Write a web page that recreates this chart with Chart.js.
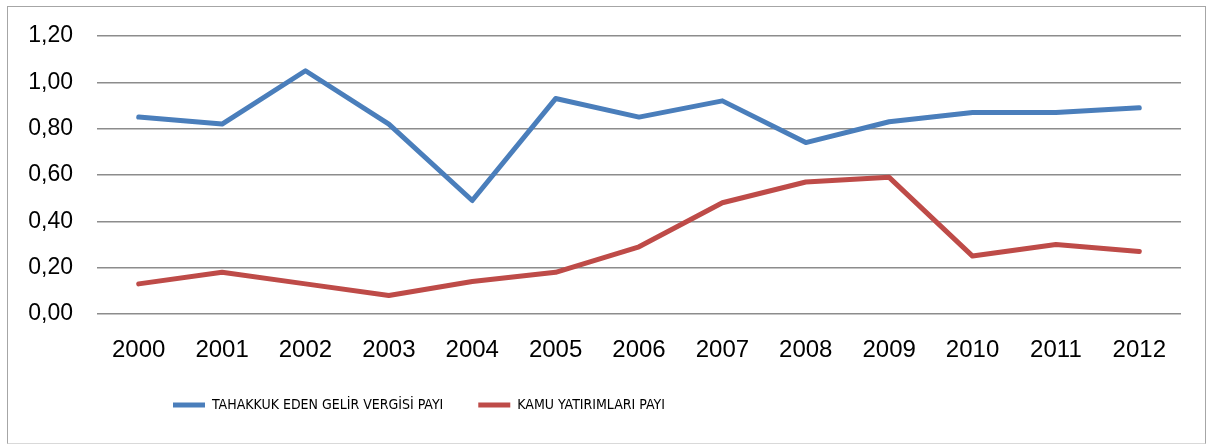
<!DOCTYPE html>
<html>
<head>
<meta charset="utf-8">
<script src="https://cdn.jsdelivr.net/npm/chart.js@4/dist/chart.umd.min.js"></script>
<style>
    body { margin: 0; background: #fff; }
    #box { position: absolute; left: 7px; top: 6px; width: 1197px; height: 436px; border: 1px solid #a6a6a6; border-bottom-color: #d9d9d9; }
    canvas { display: block; }
</style>
</head>
<body>
<div id="box"><canvas id="chart" width="1197" height="436"></canvas></div>
<script>
// data
var years = ['2000', '2001', '2002', '2003', '2004', '2005', '2006', '2007', '2008', '2009', '2010', '2011', '2012'];
var gelirVergisi = [0.85, 0.82, 1.05, 0.82, 0.49, 0.93, 0.85, 0.92, 0.74, 0.83, 0.87, 0.87, 0.89];
var kamuYatirim = [0.13, 0.18, 0.13, 0.08, 0.14, 0.18, 0.29, 0.48, 0.57, 0.59, 0.25, 0.30, 0.27];
var yTicks = [0, 0.2, 0.4, 0.6, 0.8, 1.0, 1.2];

var yFont = { family: '"Liberation Sans", Arial, sans-serif', size: 23 };
var xFont = { family: '"Liberation Sans", Arial, sans-serif', size: 24 };
var legendFont = { family: '"Liberation Sans Narrow", "DejaVu Sans Condensed", sans-serif', size: 14 };

// move the legend to where excel put it (left of centre)
var legendPlace = {
    id: 'legendPlace',
    afterLayout: function (chart) {
        var lg = chart.legend;
        var pad = lg.options.labels.padding;
        var dx = 165 - pad - lg.left;
        lg.left += dx;
        lg.right += dx;
        var dy = 398 - pad - legendFont.size / 2 - lg.top;
        lg.top += dy;
        lg.bottom += dy;
    }
};

var ctx = document.getElementById('chart').getContext('2d');
new Chart(ctx, {
    type: 'line',
    data: {
        labels: years,
        datasets: [{
            label: 'TAHAKKUK EDEN GELİR VERGİSİ PAYI',
            data: gelirVergisi,
            borderColor: '#4a7ebb',
            backgroundColor: '#4a7ebb',
            borderWidth: 5,
            pointRadius: 0,
            tension: 0,
            borderJoinStyle: 'round',
            borderCapStyle: 'round'
        }, {
            label: 'KAMU YATIRIMLARI PAYI',
            data: kamuYatirim,
            borderColor: '#be4b48',
            backgroundColor: '#be4b48',
            borderWidth: 5,
            pointRadius: 0,
            tension: 0,
            borderJoinStyle: 'round',
            borderCapStyle: 'round'
        }]
    },
    options: {
        responsive: false,
        animation: false,
        layout: { padding: { left: 0, right: 24, top: 29, bottom: 0 } },
        plugins: {
            tooltip: { enabled: false },
            legend: {
                position: 'bottom',
                align: 'start',
                labels: {
                    usePointStyle: true,
                    pointStyle: 'line',
                    pointStyleWidth: 32,
                    padding: 35,
                    color: '#000',
                    font: legendFont
                }
            }
        },
        scales: {
            x: {
                offset: true,
                grid: { display: false, drawTicks: false },
                border: { display: false },
                ticks: { color: '#000', font: xFont, padding: 22, maxRotation: 0 },
                afterFit: function (scale) { scale.height = 70; }
            },
            y: {
                min: 0,
                max: 1.2,
                grid: { color: '#8c8c8c', lineWidth: 1.5, drawTicks: false },
                border: { display: false },
                afterBuildTicks: function (scale) {
                    scale.ticks = yTicks.map(function (v) { return { value: v }; });
                },
                ticks: {
                    color: '#000',
                    font: yFont,
                    padding: 24,
                    callback: function (v) { return v.toFixed(2).replace('.', ','); }
                },
                afterFit: function (scale) {
                    scale.width = 89;
                    scale.paddingTop = 0;
                    scale.paddingBottom = 0;
                }
            }
        }
    },
    plugins: [legendPlace]
});
</script>
</body>
</html>
